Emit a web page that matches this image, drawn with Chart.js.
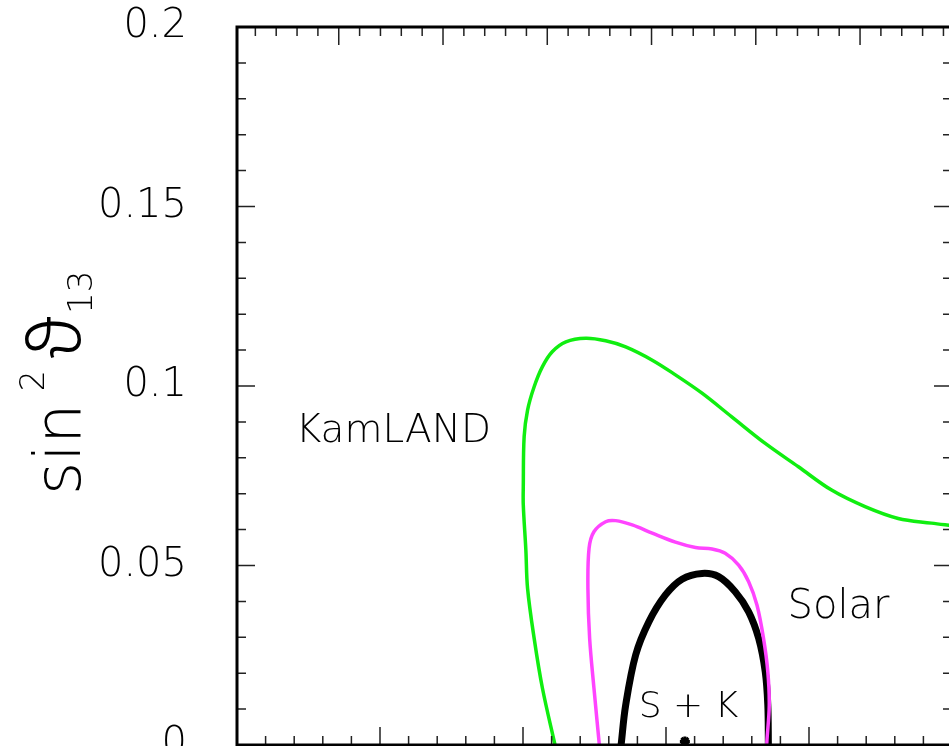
<!DOCTYPE html>
<html>
<head>
<meta charset="utf-8">
<script src="https://cdn.jsdelivr.net/npm/chart.js@4.4.1/dist/chart.umd.min.js"></script>
<style>
    html, body { margin: 0; padding: 0; background: #fff; overflow: hidden; }
</style>
</head>
<body>
<canvas id="chart" width="960" height="780"></canvas>
<script>
const yTickLabels = ['0', '0.05', '0.1', '0.15', '0.2'];

// sin^2 theta12 (x) / sin^2 theta13 (y) contours
const kamlandX = [0.2612, 0.2568, 0.2539, 0.2516, 0.2510, 0.2501, 0.2501, 0.2504, 0.2516, 0.2539, 0.2568, 0.2603, 0.2650, 0.2719,
    0.2789, 0.2859, 0.2952, 0.3033, 0.3126, 0.3230, 0.3347, 0.3463, 0.3579, 0.3696, 0.3812, 0.3928, 0.4000];
const kamlandY = [0, 0.0158, 0.0297, 0.0436, 0.0543, 0.0669, 0.0720, 0.0859, 0.0933, 0.0998, 0.1054, 0.1096, 0.1123, 0.1133,
    0.1126, 0.1109, 0.1072, 0.1031, 0.0980, 0.0914, 0.0840, 0.0775, 0.0710, 0.0664, 0.0631, 0.0618, 0.0611];

const solarX = [0.2767, 0.2748, 0.2733, 0.2727, 0.2731, 0.2748, 0.2789, 0.2824, 0.2882, 0.2952, 0.3033, 0.3103, 0.3161, 0.3207,
    0.3254, 0.3289, 0.3318, 0.3341, 0.3356, 0.3361, 0.3353, 0.3352];
const solarY = [0, 0.0159, 0.0297, 0.0436, 0.0548, 0.0594, 0.0622, 0.0625, 0.0613, 0.0590, 0.0565, 0.0550, 0.0546, 0.0534,
    0.0501, 0.0455, 0.0390, 0.0297, 0.0204, 0.0111, 0.0014, 0];

const combinedX = [0.2843, 0.2859, 0.2894, 0.2940, 0.2998, 0.3056, 0.3126, 0.3184, 0.3242, 0.3289, 0.3324, 0.3347, 0.3356, 0.3358];
const combinedY = [0, 0.0111, 0.0251, 0.0343, 0.0418, 0.0462, 0.0478, 0.0469, 0.0427, 0.0371, 0.0297, 0.0204, 0.0111, 0];

const bestFitX = [0.3066];
const bestFitY = [0.001];

const toPoints = (xs, ys) => xs.map((x, i) => ({ x, y: ys[i] }));
const thin = 'DejaVu Sans';

const frameTicks = {
    id: 'frameTicks',
    afterDraw(chart) {
        const { ctx, chartArea: a, scales } = chart;
        ctx.save();
        ctx.strokeStyle = '#222';
        ctx.lineWidth = 1.5;
        ctx.beginPath();
        for (let i = 0; i <= 20; i++) {
            const py = scales.y.getPixelForValue(i / 100);
            const len = i % 5 ? 9 : 18;
            ctx.moveTo(a.left, py); ctx.lineTo(a.left + len, py);
            ctx.moveTo(a.right, py); ctx.lineTo(a.right - len, py);
        }
        for (let i = 15; i <= 40; i++) {
            const px = scales.x.getPixelForValue(i / 100);
            const len = i % 5 ? 9 : 18;
            ctx.moveTo(px, a.bottom); ctx.lineTo(px, a.bottom - len);
        }
        for (let i = 1; i <= 34; i++) {
            const px = scales.x2.getPixelForValue(i / 100);
            const len = i % 5 ? 9 : 18;
            ctx.moveTo(px, a.top); ctx.lineTo(px, a.top + len);
        }
        ctx.stroke();
        ctx.strokeStyle = '#000';
        ctx.lineWidth = 3;
        ctx.strokeRect(a.left, a.top, a.right - a.left, a.bottom - a.top);
        ctx.restore();
    }
};

const labels = {
    id: 'labels',
    afterDatasetsDraw(chart) {
        const { ctx, scales: { x, y } } = chart;
        ctx.save();
        ctx.fillStyle = '#000';
        ctx.textBaseline = 'alphabetic';
        ctx.textAlign = 'left';
        const put = (text, size, vx, vy) => {
            ctx.font = `200 ${size}px "${thin}"`;
            ctx.fillText(text, x.getPixelForValue(vx), y.getPixelForValue(vy));
        };
        put('KamLAND', 39, 0.1705, 0.0845);
        put('Solar', 40, 0.3425, 0.0353);
        put('S + K', 36, 0.2905, 0.0078);

        // y axis title: sin^2 theta_13, rotated
        ctx.translate(80, 495);
        ctx.rotate(-Math.PI / 2);
        let pos = 0;
        const part = (text, font, dy, gap) => {
            ctx.font = font;
            ctx.fillText(text, pos, dy);
            pos += ctx.measureText(text).width + gap;
        };
        part('sin', `200 64px "${thin}"`, 0, 12);
        part('2', `200 33px "${thin}"`, -36, 12);
        part('\u03d1', '300 72px "Noto Sans", "DejaVu Sans"', 0, 2);
        part('13', `200 34px "${thin}"`, 12, 0);
        ctx.restore();
    }
};

new Chart(document.getElementById('chart'), {
    type: 'scatter',
    data: {
        datasets: [
            { label: 'KamLAND', data: toPoints(kamlandX, kamlandY), showLine: true, borderColor: '#10ee10', borderWidth: 3.5, pointRadius: 0, tension: 0.35 },
            { label: 'Solar', data: toPoints(solarX, solarY), showLine: true, borderColor: '#ff44ff', borderWidth: 3.5, pointRadius: 0, tension: 0.35 },
            { label: 'S + K', data: toPoints(combinedX, combinedY), showLine: true, borderColor: '#000', borderWidth: 7, pointRadius: 0, tension: 0.35 },
            { label: 'best fit', data: toPoints(bestFitX, bestFitY), pointStyle: 'star', pointRadius: 5, borderColor: '#000', borderWidth: 3, backgroundColor: '#000' }
        ]
    },
    options: {
        responsive: false,
        animation: false,
        layout: { padding: { top: 27, right: 6, bottom: 35, left: 0 } },
        plugins: { legend: { display: false }, tooltip: { enabled: false } },
        scales: {
            x: { type: 'linear', min: 0.15, max: 0.4, display: false },
            x2: { type: 'linear', position: 'top', min: 0.0012, max: 0.3441, display: false },
            y: {
                type: 'linear', min: 0, max: 0.2,
                afterFit: s => { s.width = 237; s.paddingTop = 0; s.paddingBottom = 0; },
                grid: { display: false },
                border: { display: false },
                ticks: {
                    stepSize: 0.05, padding: 42, color: '#000',
                    font: { family: thin, size: 40, weight: 200 },
                    callback: (v, i) => yTickLabels[i]
                }
            }
        }
    },
    plugins: [frameTicks, labels]
});
</script>
</body>
</html>
